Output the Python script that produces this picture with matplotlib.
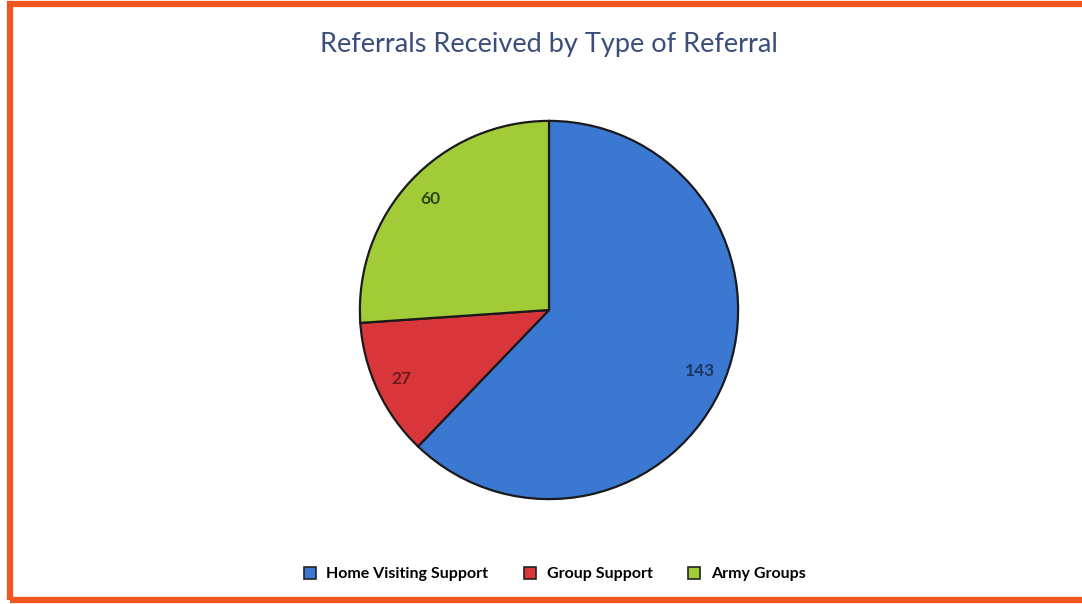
import matplotlib
matplotlib.use("Agg")
import matplotlib.pyplot as plt
from matplotlib.patches import Rectangle
from matplotlib.lines import Line2D

# ── Data ──
categories = ["Home Visiting Support", "Group Support", "Army Groups"]
values = [143, 27, 60]
colors = ["#3a78d2", "#d8363a", "#a2cb38"]
label_colors = ["#1d3562", "#6e1a1c", "#2e4514"]

plt.rcParams["font.family"] = ["Lato", "DejaVu Sans"]

W, H = 1082, 604
fig = plt.figure(figsize=(W / 100, H / 100), dpi=100)
fig.patch.set_facecolor("white")

# orange frame (right edge cut off in the original)
frame = Rectangle((9.5 / W, 4 / H), 1.2, (H - 8) / H, transform=fig.transFigure,
                  fill=False, edgecolor="#f0561f", linewidth=4.5, zorder=0)
fig.patches.append(frame)

cx, cy, r = 549, H - 310, 191
ax = fig.add_axes([(cx - r) / W, (cy - r) / H, 2 * r / W, 2 * r / H])
total = sum(values)
wedges, texts, autotexts = ax.pie(
    values, colors=colors, startangle=90, counterclock=False,
    autopct=lambda p: f"{round(p * total / 100):d}", pctdistance=0.86,
    wedgeprops=dict(edgecolor="#1a1a1a", linewidth=1.6),
    textprops=dict(fontsize=12.5, fontweight="bold"))
for t, c in zip(autotexts, label_colors):
    t.set_color(c)
ax.set_xlim(-1.01, 1.01)
ax.set_ylim(-1.01, 1.01)
ax.set_aspect("equal")

fig.text(0.507, 0.926, "Referrals Received by Type of Referral",
         ha="center", va="center", fontsize=19.5, color="#3b4d7a")

handles = [Line2D([], [], marker="s", linestyle="none", markersize=9,
                  markerfacecolor=c, markeredgecolor="#222222", markeredgewidth=1.2)
           for c in colors]
fig.legend(handles, categories, loc="center", bbox_to_anchor=(0.508, 0.049),
           ncol=3, frameon=False, handletextpad=0.05, columnspacing=1.6,
           prop=dict(size=11.5, weight="bold"))

fig.savefig("out.png", dpi=100, facecolor="white")
